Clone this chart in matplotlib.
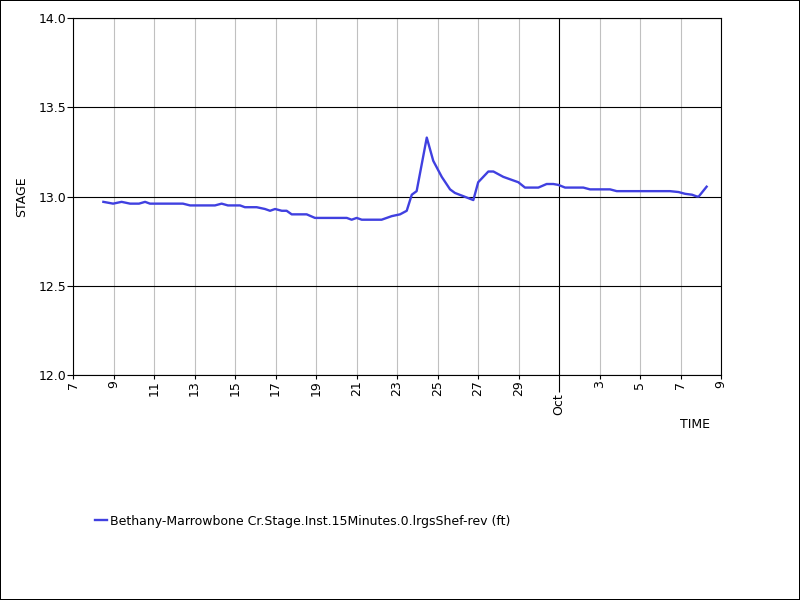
import numpy as np
import pandas as pd
import matplotlib
matplotlib.use("Agg")
import matplotlib.pyplot as plt
import matplotlib.dates as mdates
from matplotlib.ticker import FuncFormatter

# stage readings, time given as days after Sep 7 00:00
start = pd.Timestamp("2023-09-07")
days = [1.50, 1.98, 2.40, 2.82, 3.26, 3.56, 3.80, 5.43, 5.78, 7.01,
        7.34, 7.65, 8.25, 8.49, 9.07, 9.48, 9.73, 9.98, 10.31, 10.55,
        10.80, 11.54, 11.95, 13.52, 13.76, 14.01, 14.26, 15.24, 15.74, 16.15,
        16.48, 16.73, 16.97, 17.47, 17.79, 18.21, 18.62, 18.86, 19.77, 20.01,
        20.51, 20.76, 21.25, 21.99, 22.32, 22.98, 23.39, 23.72, 23.97, 24.30,
        25.20, 25.53, 26.52, 26.85, 29.48, 29.90, 30.23, 30.57, 30.81, 30.90,
        31.29]
stage = [12.97, 12.96, 12.97, 12.96, 12.96, 12.97, 12.96, 12.96, 12.95, 12.95,
         12.96, 12.95, 12.95, 12.94, 12.94, 12.93, 12.92, 12.93, 12.92, 12.92,
         12.90, 12.90, 12.88, 12.88, 12.87, 12.88, 12.87, 12.87, 12.89, 12.90,
         12.92, 13.01, 13.03, 13.33, 13.20, 13.11, 13.04, 13.02, 12.98, 13.08,
         13.14, 13.14, 13.11, 13.08, 13.05, 13.05, 13.07, 13.07, 13.065, 13.05,
         13.05, 13.04, 13.04, 13.03, 13.03, 13.025, 13.015, 13.01, 13.00, 13.00,
         13.055]
series_name = "Bethany-Marrowbone Cr.Stage.Inst.15Minutes.0.lrgsShef-rev (ft)"
x_range = ("2023-09-07", "2023-10-09")
y_range = (12.0, 14.0)
y_ticks = [12.0, 12.5, 13.0, 13.5, 14.0]

times = [start + pd.Timedelta(days=d) for d in days]

plt.rcParams['font.family'] = ['DejaVu Sans']
fig = plt.figure(figsize=(8, 6), dpi=100)
fig.patch.set_edgecolor('black')
fig.patch.set_linewidth(1.4)
ax = fig.add_axes([73 / 800, 1 - 375 / 600, 648 / 800, 357 / 600])

line, = ax.plot(times, stage, color='#4040e0', lw=1.7, label=series_name)

ax.set_xlim(pd.Timestamp(x_range[0]), pd.Timestamp(x_range[1]))
ax.set_ylim(*y_range)
ax.set_yticks(y_ticks)
ax.yaxis.set_major_formatter(FuncFormatter(lambda v, p: f"{v:.1f}"))

ax.xaxis.set_major_locator(mdates.MonthLocator())
ax.xaxis.set_major_formatter(mdates.DateFormatter("%b"))
ax.xaxis.set_minor_locator(mdates.DayLocator(bymonthday=range(1, 32, 2)))
ax.xaxis.set_minor_formatter(FuncFormatter(lambda v, p: str(mdates.num2date(v).day)))

ax.tick_params(axis='x', which='major', length=12, width=0.8, labelsize=9,
               labelrotation=90, pad=1)
ax.tick_params(axis='x', which='minor', length=3, width=0.8, labelsize=9,
               labelrotation=90, pad=1, color='black')
ax.tick_params(axis='y', length=4, width=0.8, labelsize=9, pad=1)

ax.grid(True, axis='x', which='minor', color='#c0c0c0', lw=0.8)
ax.grid(True, axis='x', which='major', color='black', lw=0.8)
ax.grid(True, axis='y', color='black', lw=0.8)
ax.set_axisbelow(True)
for s in ax.spines.values():
    s.set_linewidth(0.8)

ax.set_ylabel("STAGE", fontsize=9, labelpad=7)
fig.text(695 / 800, 1 - 424 / 600, "TIME", fontsize=9, ha='center', va='center')

fig.legend(handles=[line], loc='center left', bbox_to_anchor=(84 / 800, 1 - 521 / 600),
           frameon=False, fontsize=9, handlelength=0.9, handletextpad=0.3)

fig.savefig("out.png", dpi=100, edgecolor=fig.get_edgecolor())
